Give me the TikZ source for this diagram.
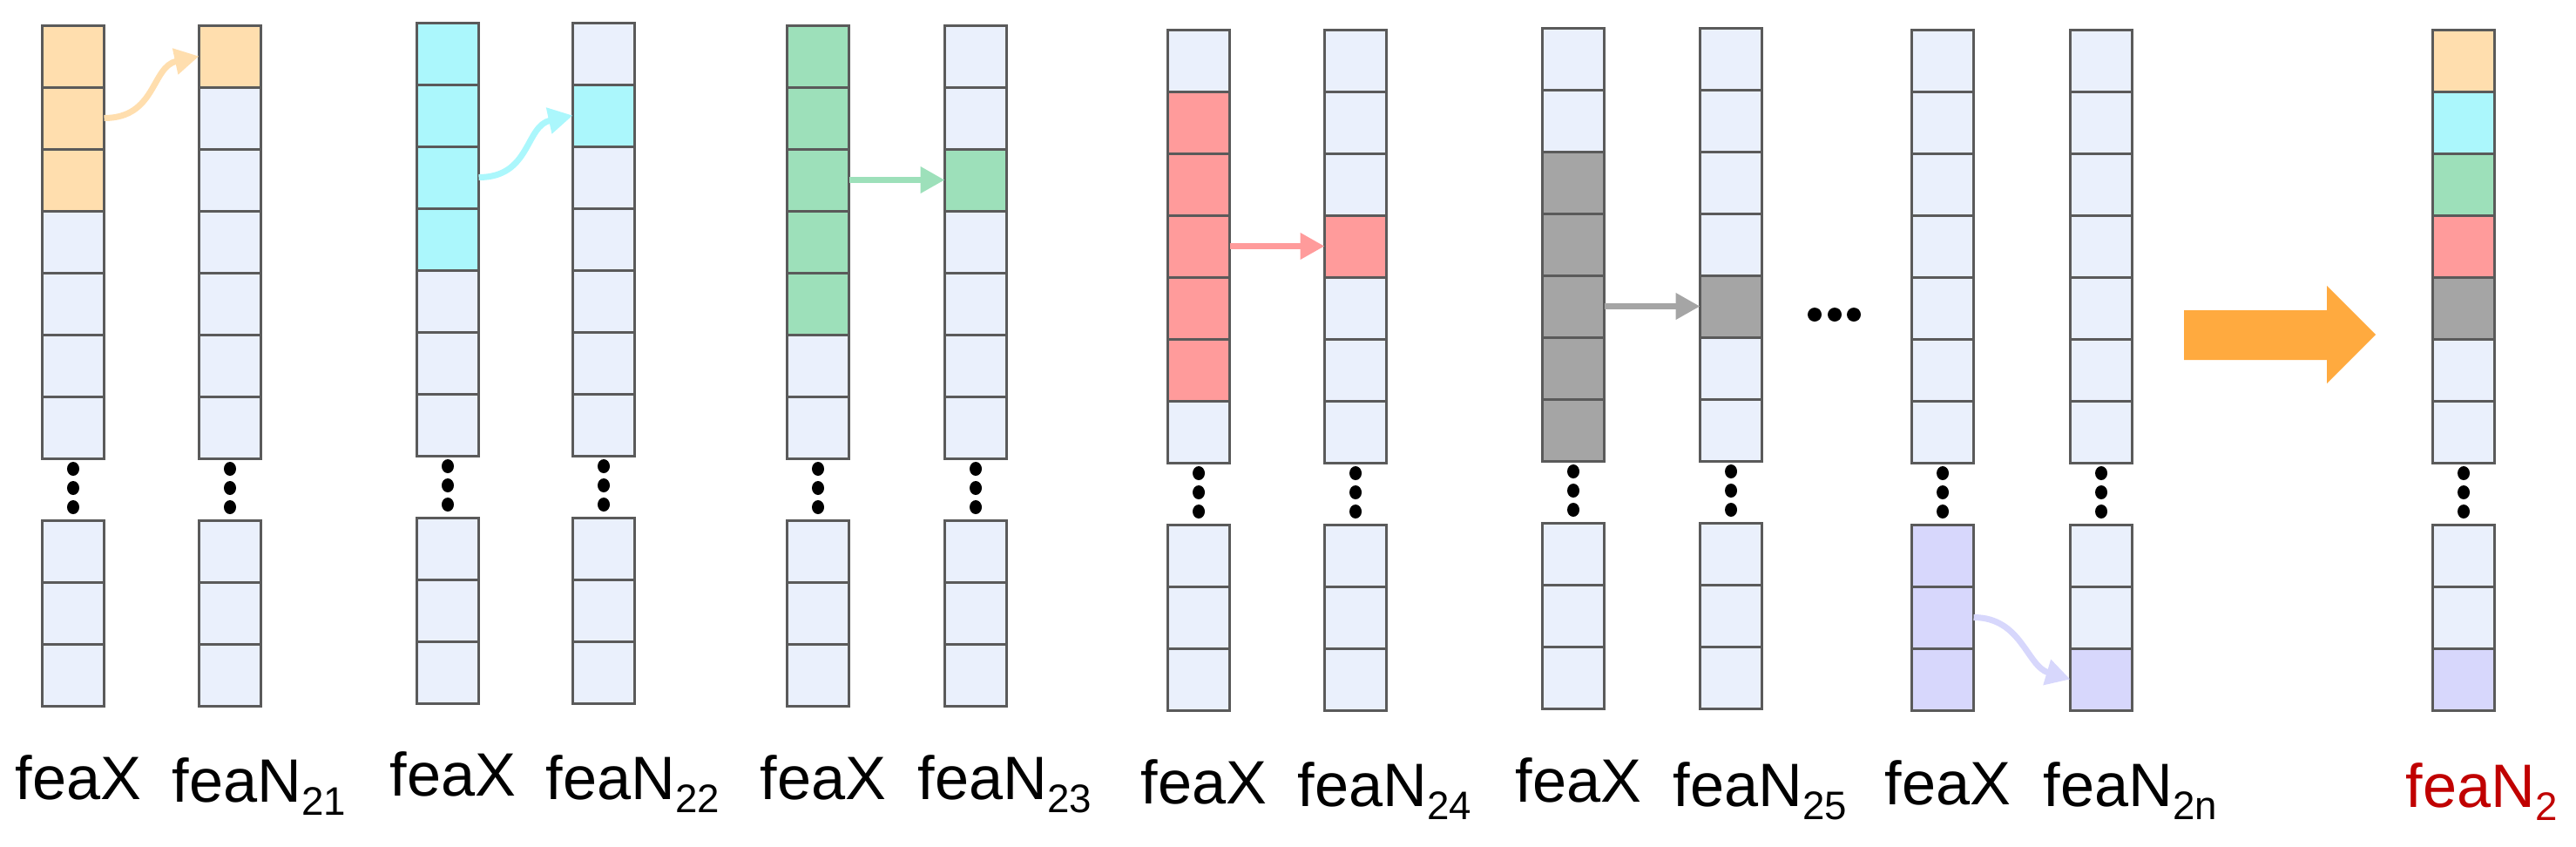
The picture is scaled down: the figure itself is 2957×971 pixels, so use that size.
\documentclass[tikz,border=0pt]{standalone}
\usepackage{fontspec}
\setmainfont{Liberation Sans}
\usepackage{xcolor}
\usepackage{tikz}
\usetikzlibrary{arrows.meta}

\definecolor{cw}{HTML}{EAF0FC}
\definecolor{co}{HTML}{FFDEAE}
\definecolor{cc}{HTML}{ABF7FC}
\definecolor{cg}{HTML}{9DE0BA}
\definecolor{cr}{HTML}{FF9B9B}
\definecolor{ck}{HTML}{A5A5A5}
\definecolor{cv}{HTML}{D7D7FC}
\definecolor{edge}{HTML}{5A5A5A}
\definecolor{bigorange}{HTML}{FFAA3F}
\definecolor{labred}{HTML}{C00000}

\newcommand{\subidx}[1]{\raisebox{-4.3pt}{\fontsize{13}{13}\selectfont #1}}

% one feature column: name, x centre, top, fills of the ten cells
\newcommand{\featcol}[4]{%
  \foreach \f [count=\i] in {#4} {
    \pgfmathsetmacro{\yc}{#3+35.5+71*(\i-1)+71*(\i>7)}
    \node[cell, fill=\f] (#1-\i) at (#2,\yc) {};
  }
  \foreach \d in {12,34,56}
    \fill (#2,#3+497+\d) ellipse [x radius=0.7mm, y radius=0.8mm];
}

\begin{document}
\begin{tikzpicture}[
  x=0.1mm, y=-0.1mm,
  font=\fontsize{20}{24}\selectfont,
  cell/.style={draw=edge,line width=0.3mm,minimum width=7.1mm,minimum height=7.1mm,inner sep=0pt,outer sep=0pt},
  lab/.style={anchor=base,inner sep=0pt},
  flow/.style={-{Triangle[width=2.9mm,length=2.8mm]},line width=0.7mm}
]
  \useasboundingbox (0,0) rectangle (2957,971);

  \featcol{f1}{84}{29}{co,co,co,cw,cw,cw,cw,cw,cw,cw}
  \featcol{n1}{264}{29}{co,cw,cw,cw,cw,cw,cw,cw,cw,cw}
  \featcol{f2}{514}{26}{cc,cc,cc,cc,cw,cw,cw,cw,cw,cw}
  \featcol{n2}{693}{26}{cw,cc,cw,cw,cw,cw,cw,cw,cw,cw}
  \featcol{f3}{939}{29}{cg,cg,cg,cg,cg,cw,cw,cw,cw,cw}
  \featcol{n3}{1120}{29}{cw,cw,cg,cw,cw,cw,cw,cw,cw,cw}
  \featcol{f4}{1376}{34}{cw,cr,cr,cr,cr,cr,cw,cw,cw,cw}
  \featcol{n4}{1556}{34}{cw,cw,cw,cr,cw,cw,cw,cw,cw,cw}
  \featcol{f5}{1806}{32}{cw,cw,ck,ck,ck,ck,ck,cw,cw,cw}
  \featcol{n5}{1987}{32}{cw,cw,cw,cw,ck,cw,cw,cw,cw,cw}
  \featcol{f6}{2230}{34}{cw,cw,cw,cw,cw,cw,cw,cv,cv,cv}
  \featcol{n6}{2412}{34}{cw,cw,cw,cw,cw,cw,cw,cw,cw,cv}
  \featcol{out}{2828}{34}{co,cc,cg,cr,ck,cw,cw,cw,cw,cv}

  % selection arrows
  \draw[flow, co] (f1-2.east) .. controls +(60,0) and +(-55,12) .. (n1-1.west);
  \draw[flow, cc] (f2-3.east) .. controls +(60,0) and +(-55,12) .. (n2-2.west);
  \draw[flow, cg] (f3-3.east) .. controls +(40,0) and +(-40,0) .. (n3-3.west);
  \draw[flow, cr] (f4-4.east) .. controls +(40,0) and +(-40,0) .. (n4-4.west);
  \draw[flow, ck] (f5-5.east) .. controls +(40,0) and +(-40,0) .. (n5-5.west);
  \draw[flow, cv] (f6-9.east) .. controls +(55,0) and +(-50,-15) .. (n6-10.west);

  % more pairs
  \foreach \x in {2083,2106,2128}
    \fill (\x,361) circle [radius=0.8mm];

  % merge arrow
  \fill[bigorange] (2507,356) -- (2671,356) -- (2671,328) -- (2727,384)
    -- (2671,440) -- (2671,413) -- (2507,413) -- cycle;

  % labels
  \node[lab] (lf1) at (90,917) {feaX};
  \node[lab] (ln1) at (272,920) {feaN\rlap{\subidx{21}}};
  \node[lab] (lf2) at (520,913) {feaX};
  \node[lab] (ln2) at (701,917) {feaN\rlap{\subidx{22}}};
  \node[lab] (lf3) at (945,917) {feaX};
  \node[lab] (ln3) at (1128,917) {feaN\rlap{\subidx{23}}};
  \node[lab] (lf4) at (1382,922) {feaX};
  \node[lab] (ln4) at (1564,925) {feaN\rlap{\subidx{24}}};
  \node[lab] (lf5) at (1812,920) {feaX};
  \node[lab] (ln5) at (1995,925) {feaN\rlap{\subidx{25}}};
  \node[lab] (lf6) at (2236,923) {feaX};
  \node[lab] (ln6) at (2420,925) {feaN\rlap{\subidx{2n}}};
  \node[lab, text=labred] (lout) at (2836,926) {feaN\rlap{\subidx{2}}};
\end{tikzpicture}
\end{document}
